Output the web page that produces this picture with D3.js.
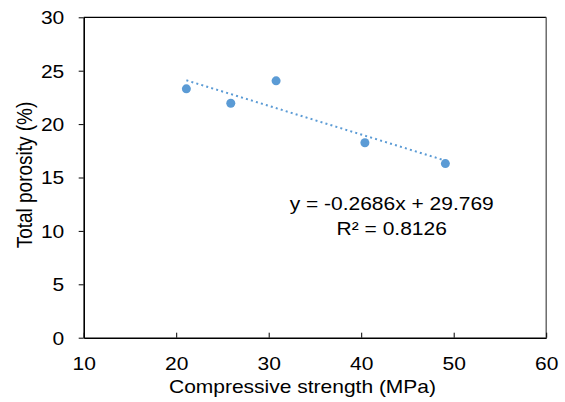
<!DOCTYPE html>
<html>
<head>
<meta charset="utf-8">
<script src="https://cdn.jsdelivr.net/npm/d3@7"></script>
<style>
    body { margin: 0; background: #fff; }
    svg { display: block; font-family: "Liberation Sans", Arial, sans-serif; }
</style>
</head>
<body>
<svg width="565" height="402"></svg>
<script>
// данные
const strength = [21.1, 25.9, 30.8, 40.4, 49.1];
const porosity = [23.3, 21.95, 24.05, 18.25, 16.3];
const xTicks = [10, 20, 30, 40, 50, 60];
const yTicks = [0, 5, 10, 15, 20, 25, 30];
// линия тренда из подписи
const trendSlope = -0.2686;
const trendIntercept = 29.769;
const trendR2 = 0.8126;

const svg = d3.select("svg");
const area = { left: 83.7, right: 546.2, top: 17.3, bottom: 337.7 };
const sx = 1.2; // растяжение текста по горизонтали
const color = "#5b9bd5";

const scaleX = d3.scaleLinear().domain([10, 60]).range([area.left, area.right]);
const scaleY = d3.scaleLinear().domain([0, 30]).range([area.bottom, area.top]);

// рамка сверху и справа
svg.append("line")
    .attr("x1", area.left).attr("x2", area.right)
    .attr("y1", area.top).attr("y2", area.top)
    .style("stroke", "#000").style("stroke-width", 1.3);
svg.append("line")
    .attr("x1", area.right).attr("x2", area.right)
    .attr("y1", area.top).attr("y2", area.bottom)
    .style("stroke", "#555").style("stroke-width", 1.3);

// оси
let axisX = d3.axisBottom(scaleX).tickValues(xTicks).tickSizeInner(-5).tickSizeOuter(0);
let gx = svg.append("g")
    .attr("transform", `translate(0, ${area.bottom})`)
    .call(axisX);
gx.select(".domain").style("stroke", "#000").style("stroke-width", 1.6);
gx.selectAll(".tick line").style("stroke", "#000").style("stroke-width", 1);
gx.selectAll("text")
    .attr("y", 32.3).attr("dy", 0)
    .attr("transform", `scale(${sx},1)`)
    .style("font-size", "17.5px").style("fill", "#000");

let axisY = d3.axisLeft(scaleY).tickValues(yTicks).tickSizeInner(5).tickSizeOuter(0);
let gy = svg.append("g")
    .attr("transform", `translate(${area.left}, 0)`)
    .call(axisY);
gy.select(".domain").style("stroke", "#000").style("stroke-width", 1.6);
gy.selectAll(".tick line").style("stroke", "#000").style("stroke-width", 1);
gy.selectAll("text")
    .attr("x", -16.2).attr("dy", "0.36em")
    .attr("transform", `scale(${sx},1)`)
    .style("font-size", "17.5px").style("fill", "#000");
svg.selectAll(".domain").attr("fill", "none");

// линия тренда
const [xMin, xMax] = d3.extent(strength);
const trend = [xMin, xMax].map(x => [x, trendSlope * x + trendIntercept]);
svg.append("path")
    .datum(trend)
    .attr("d", d3.line().x(d => scaleX(d[0])).y(d => scaleY(d[1])))
    .style("fill", "none")
    .style("stroke", color)
    .style("stroke-width", 2)
    .style("stroke-dasharray", "2,3.2");

// точки
svg.selectAll(".dot")
    .data(strength.map((s, i) => [s, porosity[i]]))
    .enter()
    .append("circle")
    .attr("r", 4.5)
    .attr("cx", d => scaleX(d[0]))
    .attr("cy", d => scaleY(d[1]))
    .style("fill", color);

// подписи
function label(x, y, txt, size) {
    return svg.append("text")
        .attr("transform", `translate(${x},${y}) scale(${sx},1)`)
        .attr("text-anchor", "middle")
        .style("font-size", size + "px")
        .style("fill", "#000")
        .text(txt);
}
label(391.7, 209.5, `y = ${trendSlope}x + ${trendIntercept}`, 17.5);
label(391.7, 235, `R² = ${trendR2}`, 17.5);
label(302.5, 393.3, "Compressive strength (MPa)", 17.5);

svg.append("text")
    .attr("transform", `translate(32, ${(area.top + area.bottom) / 2 - 2.5}) scale(${sx},1) rotate(-90)`)
    .attr("text-anchor", "middle")
    .style("font-size", "19px")
    .style("fill", "#000")
    .text("Total porosity (%)");
</script>
</body>
</html>
